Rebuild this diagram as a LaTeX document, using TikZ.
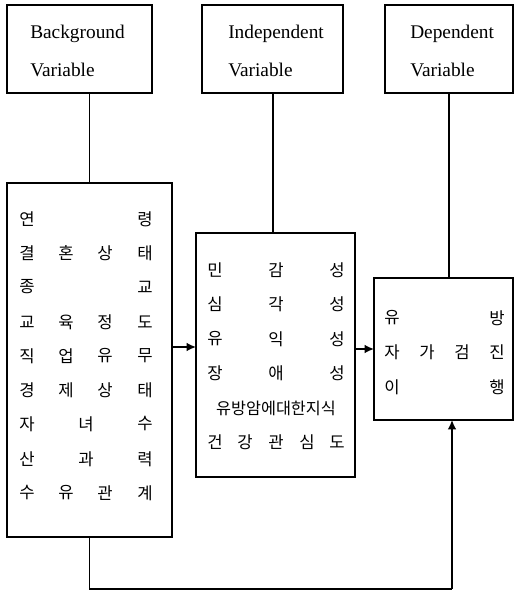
\documentclass[tikz,border=0pt]{standalone}
\usepackage{fontspec}
\setmainfont{Liberation Serif}
\newfontfamily\kor{Noto Sans CJK KR}
\usetikzlibrary{arrows.meta}
\begin{document}
\begin{tikzpicture}[x=0.75pt,y=-0.75pt,
  box/.style={draw,line width=1.3pt,inner sep=0pt,outer sep=0pt,anchor=north west},
  lbl/.style={font=\fontsize{14.5}{16}\selectfont,anchor=west,inner sep=0pt},
  ko/.style={font=\kor\fontsize{12.5}{14}\selectfont,inner sep=0pt},
  wire/.style={line width=1.3pt},
  arr/.style={wire,-{Latex[length=7pt,width=6.5pt]}}]
\useasboundingbox (0,0) rectangle (525,593);

% heading boxes
\node[box,minimum width=145*0.75pt,minimum height=88*0.75pt] (bg) at (7,5) {};
\node[box,minimum width=141*0.75pt,minimum height=88*0.75pt] (ib) at (202,5) {};
\node[box,minimum width=128*0.75pt,minimum height=88*0.75pt] (db) at (385,5) {};
\node[lbl] (bg1) at (30,34) {Background};
\node[lbl] (bg2) at (30,70) {Variable};
\node[lbl] (ib1) at (228,34) {Independent};
\node[lbl] (ib2) at (228,70) {Variable};
\node[lbl] (db1) at (410,34) {Dependent};
\node[lbl] (db2) at (410,70) {Variable};

% content boxes
\node[box,minimum width=165*0.75pt,minimum height=354*0.75pt] (lb) at (7,183) {};
\node[box,minimum width=159*0.75pt,minimum height=244*0.75pt] (mb) at (196,233) {};
\node[box,minimum width=139*0.75pt,minimum height=142*0.75pt] (rb) at (374,278) {};

% background variables
\foreach \y/\row [count=\r] in {
  219/{27/연,145/령},
  253/{27/결,66/혼,105/상,145/태},
  287/{27/종,145/교},
  322/{27/교,66/육,105/정,145/도},
  356/{27/직,66/업,105/유,145/무},
  390/{27/경,66/제,105/상,145/태},
  424/{27/자,86/녀,145/수},
  459/{27/산,86/과,145/력},
  493/{27/수,66/유,105/관,145/계}}
  \foreach \x/\c [count=\i] in \row
    \node[ko] (l\r-\i) at (\x,\y) {\c};

% independent variables
\foreach \y/\row [count=\r] in {
  270/{215/민,276/감,337/성},
  304.5/{215/심,276/각,337/성},
  339/{215/유,276/익,337/성},
  373.5/{215/장,276/애,337/성},
  442.5/{215/건,245/강,276/관,307/심,337/도}}
  \foreach \x/\c [count=\i] in \row
    \node[ko] (m\r-\i) at (\x,\y) {\c};
\node[ko,font=\kor\fontsize{12.2}{14}\selectfont] (mk) at (276,408) {유방암에대한지식};

% dependent variable
\foreach \y/\row [count=\r] in {
  318/{392/유,497/방},
  352/{392/자,427/가,462/검,497/진},
  387/{392/이,497/행}}
  \foreach \x/\c [count=\i] in \row
    \node[ko] (r\r-\i) at (\x,\y) {\c};

% connectors
\draw[wire] (bg.south -| lb.north) -- (lb.north);
\draw[wire] (ib.south -| 273,0) -- (mb.north -| 273,0);
\draw[wire] (db.south -| 449,0) -- (rb.north -| 449,0);
\coordinate (a1) at (0,347);
\coordinate (a2) at (0,349);
\draw[arr] (lb.east |- a1) -- (mb.west |- a1);
\draw[arr] (mb.east |- a2) -- (rb.west |- a2);
\coordinate (j) at (452,589);
\draw[wire] (lb.south) |- (j);
\draw[arr] (j) -- (rb.south -| j);
\end{tikzpicture}
\end{document}
